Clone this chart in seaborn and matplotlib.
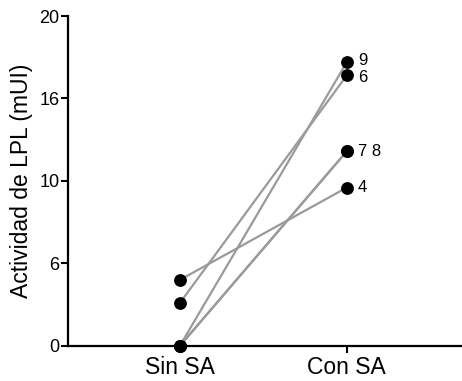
import pandas as pd
import numpy as np
import matplotlib.pyplot as plt
import seaborn as sns

# data
conditions = ['Sin SA', 'Con SA']
subjects = ['4', '6', '7', '8', '9']
sin_sa = [4.0, 2.6, 0.0, 0.0, 0.0]
con_sa = [9.6, 16.4, 11.8, 11.8, 17.2]
point_labels = {9.6: '4', 16.4: '6', 11.8: '7 8', 17.2: '9'}
label_nudge = {'4': 0, '6': -1.5, '7 8': 0, '9': 1.5}
ytick_values = [0, 5, 10, 15, 20]
ytick_labels = ['0', '6', '10', '16', '20']

df = pd.DataFrame({
    'Sujeto': subjects * 2,
    'Condicion': [conditions[0]] * len(subjects) + [conditions[1]] * len(subjects),
    'LPL': sin_sa + con_sa,
})

sns.set_style('ticks')
plt.rcParams['font.family'] = ['Liberation Sans', 'DejaVu Sans']
plt.rcParams['text.color'] = 'black'
plt.rcParams['axes.labelcolor'] = 'black'
plt.rcParams['xtick.color'] = 'black'
plt.rcParams['ytick.color'] = 'black'

fig = plt.figure(figsize=(4.62, 3.81), dpi=100)
ax = fig.add_axes([0.147, 0.092, 0.853, 0.866])

sns.lineplot(data=df, x='Condicion', y='LPL', units='Sujeto', estimator=None,
             color='#9a9a9a', linewidth=1.6, ax=ax, legend=False, zorder=2)
sns.scatterplot(data=df, x='Condicion', y='LPL', color='black', s=85,
                edgecolor='black', linewidth=0, ax=ax, legend=False,
                zorder=3, clip_on=False)

for val, lab in point_labels.items():
    ax.annotate(lab, xy=(1, val), xytext=(8, label_nudge[lab]), textcoords='offset points',
                va='center', ha='left', fontsize=12)

ax.set_xlim(-0.67, 1.69)
ax.set_ylim(0, 20)
ax.set_yticks(ytick_values)
ax.set_yticklabels(ytick_labels)
ax.set_xlabel('')
ax.set_ylabel('Actividad de LPL (mUI)', fontsize=16.5, labelpad=5)

ax.tick_params(axis='y', labelsize=13, length=5, width=1.5, pad=1)
ax.tick_params(axis='x', labelsize=16.5, length=5, width=1.5, pad=2)

sns.despine(ax=ax)
for side in ['left', 'bottom']:
    ax.spines[side].set_linewidth(1.6)
    ax.spines[side].set_color('black')

fig.savefig('out.png', dpi=100)
